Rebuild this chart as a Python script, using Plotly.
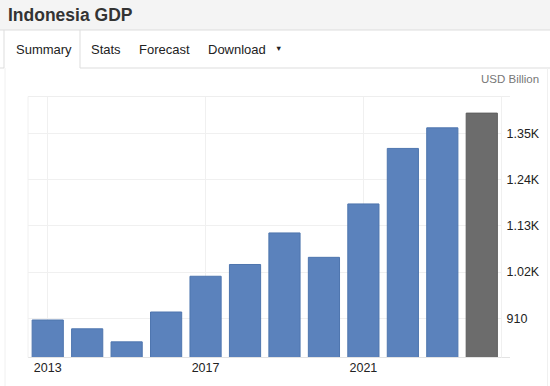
import plotly.graph_objects as go

years = [2013, 2014, 2015, 2016, 2017, 2018, 2019, 2020, 2021, 2022, 2023, 2024]
gdp = [906, 885, 854, 925, 1010, 1038, 1113, 1055, 1182, 1314, 1363, 1398]
bar_colors = ["#5b82bc"] * 11 + ["#6c6c6c"]
line_colors = ["#4e75ae"] * 11 + ["#5e5e5e"]
ytick_vals = [910, 1020, 1130, 1240, 1350]
ytick_text = ["910", "1.02K", "1.13K", "1.24K", "1.35K"]
xtick_vals = [2013, 2017, 2021]
xtick_text = ["2013", "2017", "2021"]
tabs = ["Summary", "Stats", "Forecast", "Download"]

W, H = 550, 386
FONT = "Liberation Sans, Arial, Helvetica, sans-serif"

def px(x):
    return x / W

def py(y):
    return 1 - y / H

x0, x1 = 28, 501.5
y_top, y_bot = 96.5, 357.5

fig = go.Figure()
fig.add_trace(go.Bar(
    x=years, y=gdp,
    marker=dict(color=bar_colors, line=dict(color=line_colors, width=1)),
    width=0.79, hoverinfo="x+y",
))

shapes = [
    dict(type="rect", xref="paper", yref="paper", x0=0, x1=1, y0=py(30), y1=1,
         fillcolor="#f4f4f4", line=dict(width=0), layer="below"),
    dict(type="line", xref="paper", yref="paper", x0=0, x1=1, y0=py(30), y1=py(30),
         line=dict(color="#dddddd", width=1)),
    dict(type="line", xref="paper", yref="paper", x0=0, x1=px(4), y0=py(68), y1=py(68),
         line=dict(color="#dddddd", width=1)),
    dict(type="line", xref="paper", yref="paper", x0=px(80), x1=1, y0=py(68), y1=py(68),
         line=dict(color="#dddddd", width=1)),
    dict(type="line", xref="paper", yref="paper", x0=px(4), x1=px(4), y0=py(68), y1=py(30),
         line=dict(color="#dddddd", width=1)),
    dict(type="line", xref="paper", yref="paper", x0=px(80), x1=px(80), y0=py(68), y1=py(30),
         line=dict(color="#dddddd", width=1)),
    dict(type="line", xref="paper", yref="paper", x0=px(5), x1=px(5), y0=0, y1=py(68),
         line=dict(color="#f0f0f0", width=1)),
    dict(type="line", xref="paper", yref="paper", x0=px(547.5), x1=px(547.5), y0=0, y1=py(68),
         line=dict(color="#f0f0f0", width=1)),
    dict(type="line", xref="paper", yref="paper", x0=px(x0), x1=px(510), y0=py(y_top), y1=py(y_top),
         line=dict(color="#eeeeee", width=1)),
    dict(type="line", xref="paper", yref="paper", x0=px(x0), x1=px(510), y0=py(y_bot), y1=py(y_bot),
         line=dict(color="#e3e3e3", width=1)),
    dict(type="line", xref="paper", yref="paper", x0=px(x0), x1=px(x0), y0=py(y_bot), y1=py(y_top),
         line=dict(color="#f0f0f0", width=1)),
    dict(type="line", xref="paper", yref="paper", x0=px(x1), x1=px(x1), y0=py(y_bot), y1=py(y_top),
         line=dict(color="#f0f0f0", width=1)),
]

annotations = [
    dict(text="<b>Indonesia GDP</b>", xref="paper", yref="paper", x=px(6), y=py(15),
         xanchor="left", yanchor="middle", showarrow=False,
         font=dict(family=FONT, size=17.5, color="#333333")),
    dict(text="USD Billion", xref="paper", yref="paper", x=px(541), y=py(79),
         xanchor="right", yanchor="middle", showarrow=False,
         font=dict(family=FONT, size=11.5, color="#777777")),
]
tab_x = [14, 89, 137, 206]
for t, tx in zip(tabs, tab_x):
    annotations.append(dict(text=t, xref="paper", yref="paper", x=px(tx), y=py(49),
                            xanchor="left", yanchor="middle", showarrow=False,
                            font=dict(family=FONT, size=13, color="#222222")))
annotations.append(dict(text="▼", xref="paper", yref="paper", x=px(278), y=py(48),
                        xanchor="center", yanchor="middle", showarrow=False,
                        font=dict(family=FONT, size=7.5, color="#222222")))

fig.update_layout(
    width=W, height=H,
    margin=dict(l=0, r=0, t=0, b=0),
    paper_bgcolor="white", plot_bgcolor="white",
    showlegend=False,
    shapes=shapes, annotations=annotations,
    bargap=0.21,
    xaxis=dict(
        domain=[px(x0), px(x1)], range=[2012.5, 2024.5],
        tickmode="array", tickvals=xtick_vals, ticktext=xtick_text,
        showgrid=True, gridcolor="#f0f0f0", gridwidth=1,
        zeroline=False, showline=False, ticks="",
        ticklabelstandoff=1,
        tickfont=dict(family=FONT, size=12.5, color="#222222"),
        fixedrange=True,
    ),
    yaxis=dict(
        domain=[py(y_bot), py(y_top)], range=[816.8, 1437.5],
        side="right",
        tickmode="array", tickvals=ytick_vals, ticktext=ytick_text,
        showgrid=True, gridcolor="#f0f0f0", gridwidth=1,
        zeroline=False, showline=False, ticks="",
        ticklabelstandoff=4,
        tickfont=dict(family=FONT, size=12.5, color="#222222"),
        fixedrange=True,
    ),
)

fig.write_html("out.html", config={"displayModeBar": False},
               post_script="document.body.style.margin='0';document.body.style.overflow='hidden';")
